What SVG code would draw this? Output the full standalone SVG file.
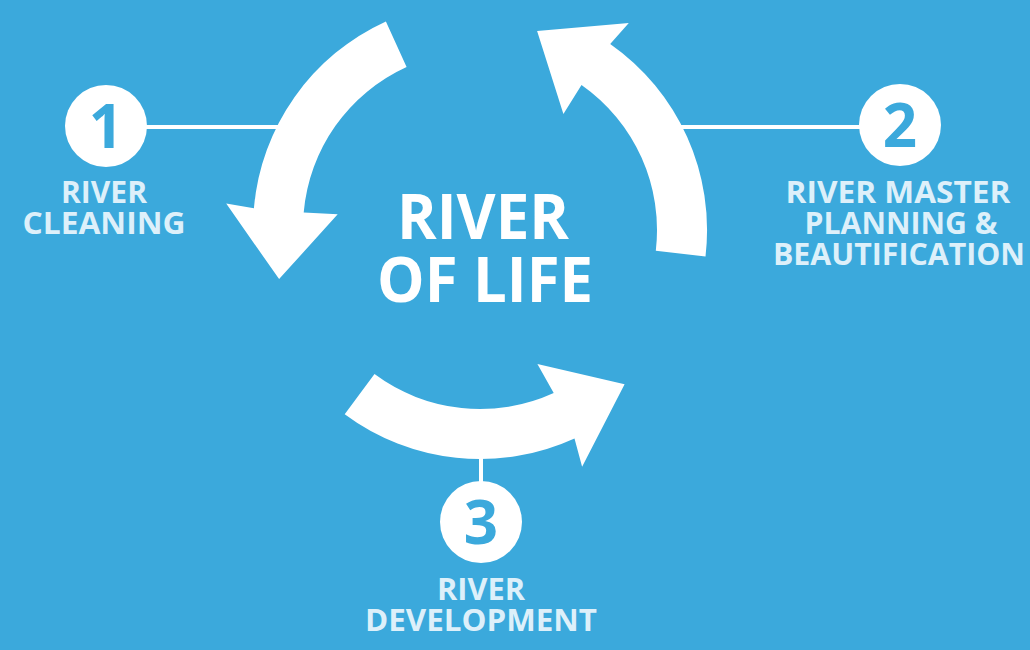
<svg xmlns="http://www.w3.org/2000/svg" width="1030" height="650" viewBox="0 0 1030 650">
<style>
.arrow{fill:#ffffff}
.conn{stroke:#ffffff;stroke-width:4;fill:none}
.badge{fill:#ffffff}
.num{font-family:"Open Sans","Liberation Sans",sans-serif;font-weight:700;font-size:60px;fill:#3BA9DC;text-anchor:middle}
.label{font-family:"Open Sans","Liberation Sans",sans-serif;font-weight:700;font-size:30px;fill:#DDF0FA;text-anchor:middle}
.title{font-family:"Open Sans","Liberation Sans",sans-serif;font-weight:700;font-size:63px;fill:#ffffff;text-anchor:middle}
</style>
<rect x="0" y="0" width="1030" height="650" fill="#3BA9DC"/>
<g id="connectors">
<line class="conn" x1="146" y1="127" x2="285" y2="127"/>
<line class="conn" x1="675" y1="127" x2="860" y2="127"/>
<line class="conn" x1="481" y1="450" x2="481" y2="482"/>
</g>
<g id="arrow-1">
<path class="arrow" d="M385.9,21.4 A227,227 0 0 0 253.9,208.2 L226.2,203.6 L279.1,279.1 L337.7,214.3 L303.7,212.6 A177,177 0 0 1 406.6,66.9 Z"/>
</g>
<g id="arrow-2" transform="translate(0,2)">
<path class="arrow" d="M705.5,254.5 A227,227 0 0 0 610.2,42.0 L628.8,20.9 L537.1,29.0 L563.4,111.9 L581.5,83.0 A177,177 0 0 1 655.8,248.7 Z"/>
</g>
<g id="arrow-3" transform="translate(0,4)">
<path class="arrow" d="M344.7,410.2 A227,227 0 0 0 574.5,434.4 L582.1,462.8 L624.6,380.3 L537.4,360.1 L553.7,388.9 A177,177 0 0 1 374.5,370.1 Z"/>
</g>
<g id="center-title">
<text class="title" x="483" y="239" textLength="172" lengthAdjust="spacingAndGlyphs">RIVER</text>
<text class="title" x="485" y="302" textLength="216" lengthAdjust="spacingAndGlyphs">OF LIFE</text>
</g>
<g id="node-1">
<circle class="badge" cx="106" cy="126" r="41"/>
<text class="num" x="106" y="148">1</text>
<text class="label" x="104" y="203" textLength="86" lengthAdjust="spacingAndGlyphs">RIVER</text>
<text class="label" x="104" y="234" textLength="163" lengthAdjust="spacingAndGlyphs">CLEANING</text>
</g>
<g id="node-2">
<circle class="badge" cx="900" cy="125" r="41"/>
<text class="num" x="900" y="147">2</text>
<text class="label" x="898" y="203" textLength="225" lengthAdjust="spacingAndGlyphs">RIVER MASTER</text>
<text class="label" x="901" y="234" textLength="193" lengthAdjust="spacingAndGlyphs">PLANNING &amp;</text>
<text class="label" x="899" y="265" textLength="252" lengthAdjust="spacingAndGlyphs">BEAUTIFICATION</text>
</g>
<g id="node-3">
<circle class="badge" cx="481" cy="522" r="41"/>
<text class="num" x="481" y="544">3</text>
<text class="label" x="481" y="600" textLength="88" lengthAdjust="spacingAndGlyphs">RIVER</text>
<text class="label" x="481" y="631" textLength="232" lengthAdjust="spacingAndGlyphs">DEVELOPMENT</text>
</g>
</svg>
